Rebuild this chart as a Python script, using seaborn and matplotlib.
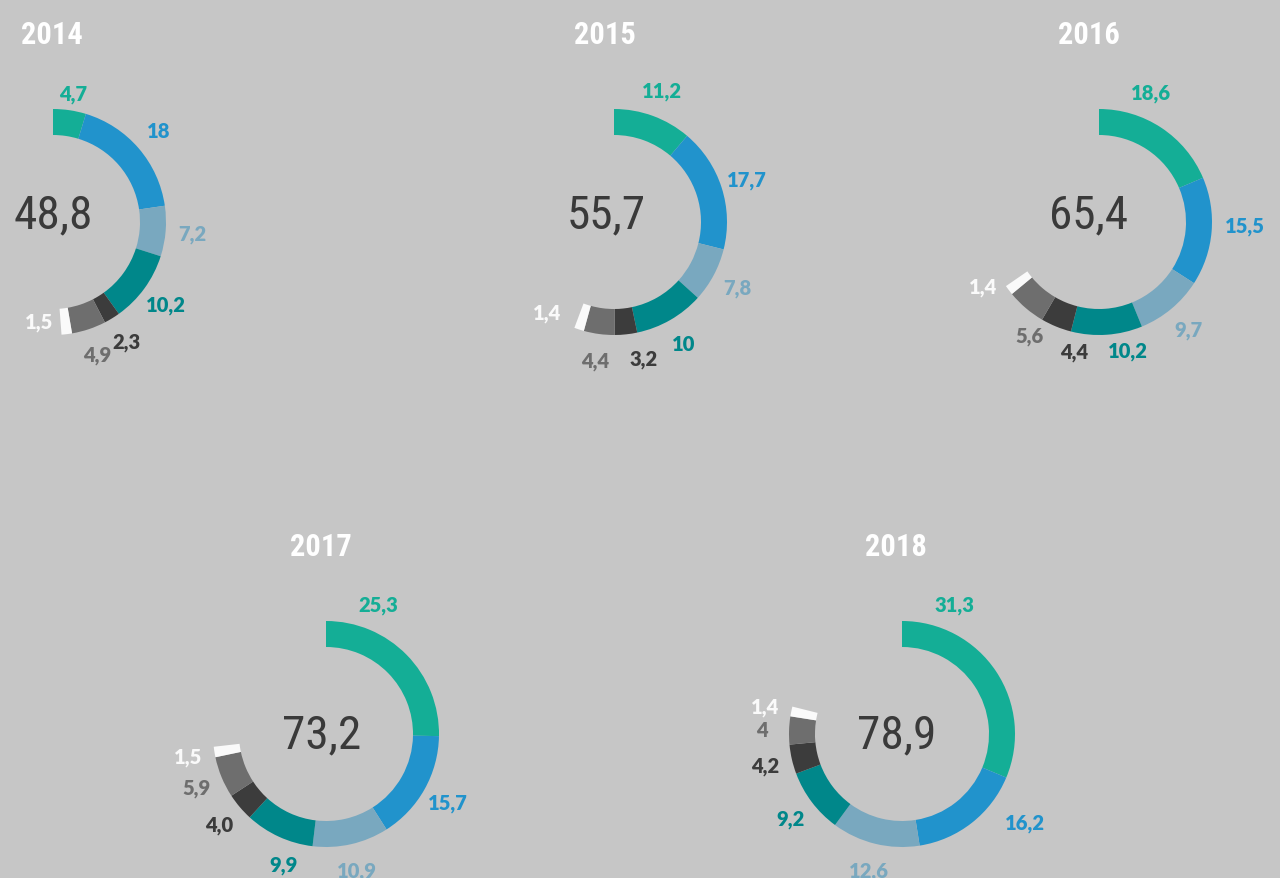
import numpy as np
import matplotlib
matplotlib.use("Agg")
import matplotlib.pyplot as plt
from matplotlib import font_manager
import seaborn as sns

# values as printed in the source (decimal comma)
years = ["2014", "2015", "2016", "2017", "2018"]
totals = ["48,8", "55,7", "65,4", "73,2", "78,9"]
green = ["4,7", "11,2", "18,6", "25,3", "31,3"]
blue = ["18", "17,7", "15,5", "15,7", "16,2"]
light_blue = ["7,2", "7,8", "9,7", "10,9", "12,6"]
teal = ["10,2", "10", "10,2", "9,9", "9,2"]
dark_grey = ["2,3", "3,2", "4,4", "4,0", "4,2"]
grey = ["4,9", "4,4", "5,6", "5,9", "4"]
white = ["1,5", "1,4", "1,4", "1,5", "1,4"]

series = [green, blue, light_blue, teal, dark_grey, grey, white]
colors = ["#14ae96", "#2193cc", "#79a8bf", "#00878a", "#3c3c3c", "#6e6e6e", "#fafafa"]

BG = "#c6c6c6"
W, H = 1280, 879

# layout in image pixels (x, y from top)
centers = [(53, 223), (614, 223), (1099, 223), (326, 735), (902, 735)]
title_pos = [(52, 35), (605, 35), (1089, 35), (321, 547), (896, 547)]
total_pos = [(53, 215), (606, 215), (1089, 215), (322, 735), (897, 735)]
R_OUT, R_IN, R_LAB = 113, 87, 140
# hand placed labels (year index, series index) -> pixel nudge
nudges = {(0, 0): (0, 10), (0, 6): (-31, -39), (1, 6): (-24, -43), (1, 4): (15, -3),
          (2, 3): (19, -11), (2, 4): (28, 0), (2, 5): (21, 7), (2, 1): (6, -8),
          (2, 6): (-4, -20), (3, 3): (16, 3), (4, 1): (36, -22)}


def num(s):
    return float(s.replace(",", "."))


def pick_condensed():
    names = {f.name for f in font_manager.fontManager.ttflist}
    for fam in ["Roboto Condensed", "Liberation Sans Narrow", "Open Sans Condensed",
                "DejaVu Sans Condensed"]:
        if fam in names:
            return fam, "normal"
    for f in font_manager.fontManager.ttflist:
        if f.stretch in ("condensed", "semi-condensed", "extra-condensed"):
            return f.name, f.stretch
    return "Roboto", "normal"


sns.set_theme(style="white", rc={"figure.facecolor": BG, "axes.facecolor": BG})
plt.rcParams["font.family"] = ["Lato", "DejaVu Sans"]
cond_family, cond_stretch = pick_condensed()

fig = plt.figure(figsize=(W / 100, H / 100), dpi=100)
ax = fig.add_axes([0, 0, 1, 1])

for i, year in enumerate(years):
    cx, cy = centers[i]
    vals = [num(s[i]) for s in series]
    rest = 100 - sum(vals)
    wedges, _ = ax.pie(np.array(vals + [rest]) / 100, normalize=False,
                       colors=colors + ["none"], startangle=90, counterclock=False,
                       radius=R_OUT, center=(cx, H - cy),
                       wedgeprops=dict(width=R_OUT - R_IN, linewidth=0))
    wedges[-1].set_visible(False)

    # value labels around the ring
    start = 0.0
    for j, s in enumerate(series):
        v = num(s[i])
        mid = (start + v / 2) / 100 * 360
        if j == 0:
            mid = min(mid, 22)
        ang = np.deg2rad(mid)
        lx = cx + R_LAB * np.sin(ang)
        ly = cy - R_LAB * np.cos(ang)
        dx, dy = nudges.get((i, j), (0, 0))
        ax.text(lx + dx, H - (ly + dy), s[i], color=colors[j], fontsize=14.5,
                fontweight="heavy", ha="center", va="center")
        start += v

    tx, ty = title_pos[i]
    ax.text(tx, H - ty, year, color="white", fontsize=22, fontweight="bold",
            family=[cond_family, "DejaVu Sans"], fontstretch=cond_stretch,
            ha="center", va="center")
    nx, ny = total_pos[i]
    ax.text(nx, H - ny, totals[i], color="#3a3a3a", fontsize=34,
            family=[cond_family, "DejaVu Sans"], fontstretch=cond_stretch,
            ha="center", va="center")

ax.set_xlim(0, W)
ax.set_ylim(0, H)
ax.set_aspect("equal")
ax.axis("off")

fig.savefig("out.png", dpi=100, facecolor=BG)
